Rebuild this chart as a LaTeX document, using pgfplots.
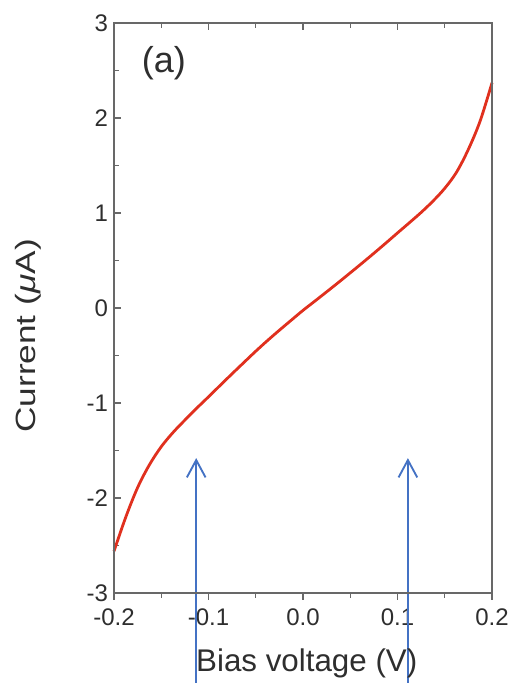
\documentclass[border=0pt]{standalone}
\usepackage{pgfplots}
\pgfplotsset{compat=1.18}
\usepackage{fontspec}
\setmainfont{Liberation Sans}
\usetikzlibrary{arrows.meta}

\definecolor{txt}{HTML}{2E2E2E}
\definecolor{frame}{HTML}{686868}
\definecolor{ivred}{HTML}{E0301E}
\definecolor{arrowblue}{HTML}{4472C4}

% I-V sweep, bias voltage (V) vs current (uA)
\pgfplotstableread{
V        I
-0.2000  -2.56
-0.1875  -2.20
-0.1750  -1.89
-0.1625  -1.65
-0.1500  -1.46
-0.1375  -1.31
-0.1250  -1.18
-0.1125  -1.055
-0.1000  -0.935
-0.0875  -0.813
-0.0750  -0.692
-0.0625  -0.573
-0.0500  -0.455
-0.0375  -0.342
-0.0250  -0.234
-0.0125  -0.129
 0.0000  -0.025
 0.0125   0.072
 0.0250   0.170
 0.0375   0.269
 0.0500   0.370
 0.0625   0.472
 0.0750   0.576
 0.0875   0.682
 0.1000   0.790
 0.1125   0.897
 0.1250   1.006
 0.1375   1.125
 0.1500   1.260
 0.1625   1.430
 0.1750   1.670
 0.1875   1.970
 0.2000   2.370
}\ivdata

\begin{document}
\begin{tikzpicture}[font=\color{txt}]
\path[use as bounding box] (0,0) rectangle (384pt,512.25pt);

\pgfplotsset{
  commonframe/.style={
    at={(85.5pt,67.5pt)}, anchor=south west,
    scale only axis, width=283.5pt, height=427.5pt,
    xmin=-0.2, xmax=0.2, ymin=-3, ymax=3,
    axis line style={frame, line width=1.4pt},
    every tick/.style={frame, line width=1pt},
    major tick length=5pt, minor tick length=3.5pt,
    clip=false,
  },
}

\begin{axis}[
  commonframe,
  xtick={-0.2,-0.1,0,0.1,0.2},
  ytick={-3,-2,-1,0,1,2,3},
  minor x tick num=1, minor y tick num=1,
  xtick pos=bottom, xtick align=outside,
  ytick pos=left, ytick align=inside,
  /pgf/number format/assume math mode=true,
  xticklabel style={/pgf/number format/fixed, /pgf/number format/fixed zerofill,
    /pgf/number format/precision=1, yshift=-3pt},
  ticklabel style={font=\fontsize{18}{20}\selectfont\color{txt}},
  yticklabel style={xshift=-1pt},
  xlabel={Bias voltage (V)},
  xlabel style={at={(axis description cs:0.51,0)}, anchor=base, yshift=-59pt,
    font=\fontsize{23.5}{26}\selectfont\color{txt}},
  ylabel={\scalebox{1.2}[0.95]{Current (\textit{μ}A)}},
  ylabel style={at={(axis description cs:-0.208,0.451)}, anchor=base, rotate=0,
    font=\fontsize{22}{25}\selectfont\color{txt}},
]
\addplot[ivred, line width=2.1pt, smooth, tension=0.55] table[x=V, y=I] {\ivdata};

% markers at the two bias points
\addplot[arrowblue, line width=1.4pt, -{Straight Barb[length=13pt, width=14pt, line width=1.4pt]}]
  coordinates {(-0.113,-3.95) (-0.113,-1.58)};
\addplot[arrowblue, line width=1.4pt, -{Straight Barb[length=13pt, width=14pt, line width=1.4pt]}]
  coordinates {(0.111,-3.95) (0.111,-1.58)};

\node[font=\fontsize{27}{30}\selectfont\color{txt}, anchor=center]
  at (axis description cs:0.132,0.93) {(a)};
\end{axis}

% top-side ticks point into the frame
\begin{axis}[
  commonframe,
  xtick={-0.2,-0.1,0,0.1,0.2},
  minor x tick num=1,
  xtick pos=top, xtick align=inside,
  xticklabels={}, ytick=\empty,
]
\end{axis}
\end{tikzpicture}
\end{document}
